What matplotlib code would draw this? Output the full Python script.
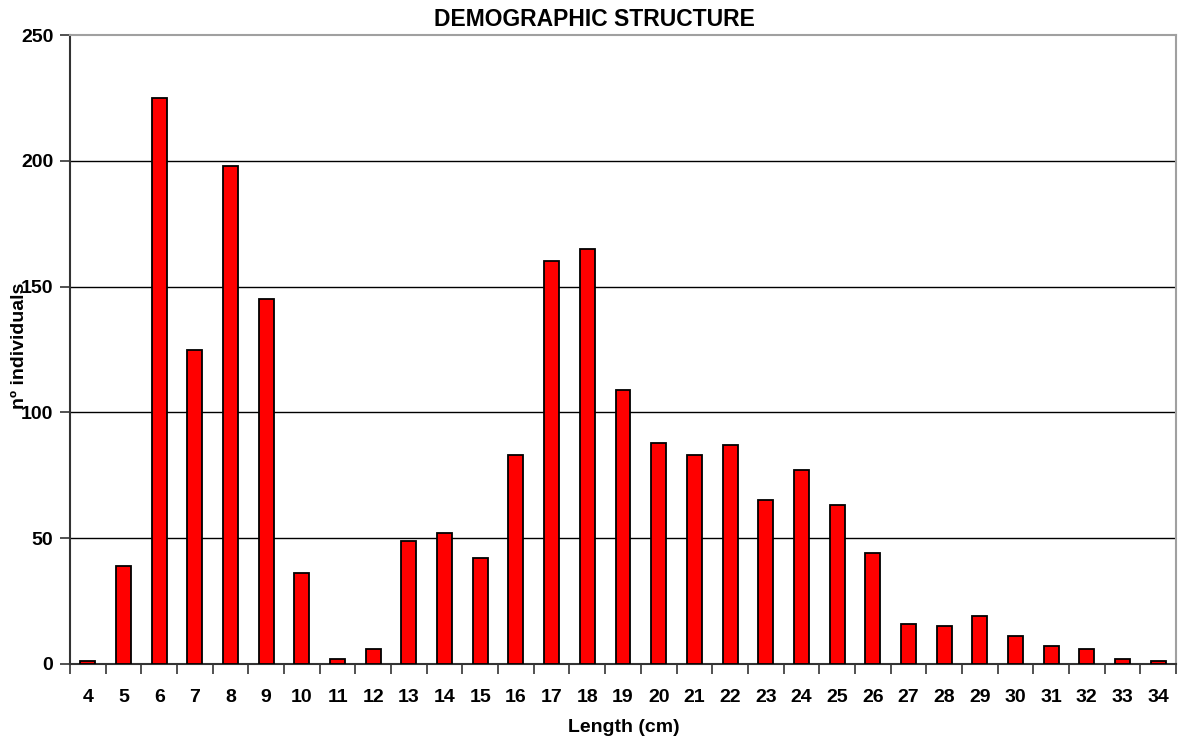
import matplotlib
matplotlib.use("Agg")
import matplotlib.pyplot as plt
import numpy as np

lengths = list(range(4, 35))
counts = [1, 39, 225, 125, 198, 145, 36, 2, 6, 49, 52, 42, 83, 160, 165, 109,
          88, 83, 87, 65, 77, 63, 44, 16, 15, 19, 11, 7, 6, 2, 1]
y_ticks = [0, 50, 100, 150, 200, 250]

plt.rcParams['font.family'] = ['Liberation Sans', 'DejaVu Sans']

fig = plt.figure(figsize=(11.79, 7.40), dpi=100)
ax = fig.add_axes([70 / 1179, 76 / 740, 1106 / 1179, 629 / 740])

x = np.arange(len(lengths))
ax.bar(x, counts, width=0.42, color='#ff0000', edgecolor='black', linewidth=1.3, zorder=3)

ax.set_xlim(-0.5, len(lengths) - 0.5)
ax.set_ylim(0, 250)
ax.set_yticks(y_ticks)
ax.set_yticklabels([str(v) for v in y_ticks], fontsize=14, fontweight='bold')
for v in y_ticks[1:-1]:
    ax.axhline(v, color='black', linewidth=1.0, zorder=1)

ax.set_xticks(x)
ax.set_xticklabels([str(v) for v in lengths], fontsize=14, fontweight='bold')
ax.tick_params(axis='x', length=0, pad=18)
ax.set_xticks(np.arange(-0.5, len(lengths), 1.0), minor=True)
ax.tick_params(axis='x', which='minor', length=7, width=1.2, color='#333333')
ax.tick_params(axis='y', length=7, width=1.2, color='#333333', pad=5)

for side in ['top', 'right']:
    ax.spines[side].set_color('#a0a0a0')
    ax.spines[side].set_linewidth(1.5)
for side in ['left', 'bottom']:
    ax.spines[side].set_color('#333333')
    ax.spines[side].set_linewidth(1.5)

fig.text(594 / 1179, 1 - 20 / 740, 'DEMOGRAPHIC STRUCTURE', ha='center', va='center',
         fontsize=16.5, fontweight='bold')
fig.text(624 / 1179, 1 - 728 / 740, 'Length (cm)', ha='center', va='center',
         fontsize=14, fontweight='bold')
fig.text(20 / 1179, 1 - 346 / 740, 'nº individuals', ha='center', va='center',
         rotation=90, fontsize=14, fontweight='bold')

fig.savefig('out.png', dpi=100, facecolor='white')
